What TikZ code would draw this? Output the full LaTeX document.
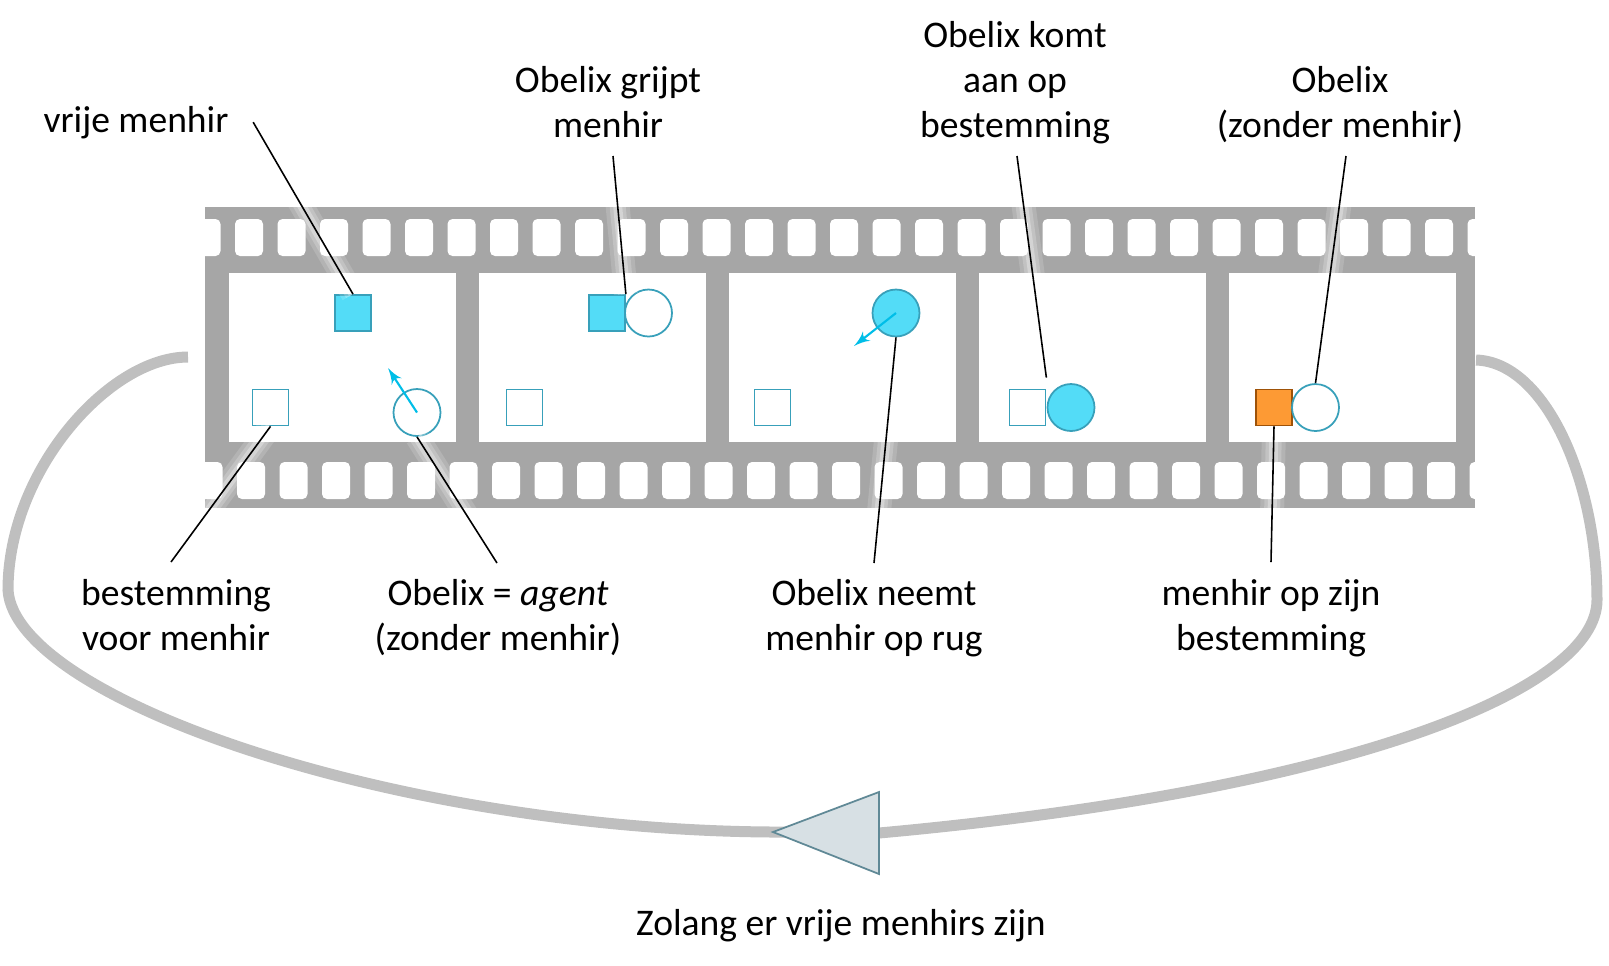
\documentclass[tikz,border=0pt]{standalone}
\usepackage{fontspec}
\setmainfont{Carlito}
\usetikzlibrary{arrows}
\definecolor{film}{RGB}{166,166,166}
\definecolor{loopgray}{RGB}{191,191,191}
\definecolor{rimblue}{RGB}{56,160,186}
\definecolor{menhircyan}{RGB}{83,220,247}
\definecolor{menhirorange}{RGB}{253,154,52}
\definecolor{orangerim}{RGB}{158,82,8}
\definecolor{movecyan}{RGB}{0,190,232}
\definecolor{tipfill}{RGB}{215,224,228}
\definecolor{tipline}{RGB}{96,137,150}
\tikzstyle{lbl} = [font=\fontsize{10.7}{12.8}\selectfont, align=center, inner sep=0pt, anchor=base]
\tikzstyle{stone} = [rectangle, draw=rimblue, line width=0.5pt, minimum size=3.6mm, inner sep=0pt]
\tikzstyle{freestone} = [stone, fill=menhircyan]
\tikzstyle{spot} = [stone, fill=white]
\tikzstyle{donestone} = [stone, draw=orangerim, fill=menhirorange]
\tikzstyle{obelix} = [circle, draw=rimblue, line width=0.5pt, minimum size=4.7mm, inner sep=0pt, fill=white]
\tikzstyle{loaded} = [obelix, fill=menhircyan]
\tikzstyle{line} = [draw, line width=0.45pt, preaction={draw=white, line width=2.4mm, draw opacity=0.15}, preaction={draw=white, line width=1.6mm, draw opacity=0.2}, preaction={draw=white, line width=0.9mm, draw opacity=0.3}]
\tikzstyle{move} = [draw=movecyan, line width=0.6pt, -latex']
\tikzstyle{loopline} = [draw=loopgray, line width=1.1mm]

\begin{document}
\begin{tikzpicture}[x=0.1mm, y=-0.1mm]
	\useasboundingbox (0,0) rectangle (1609,965);
	\fill[film] (205,207) rectangle (1475,508);
	\begin{scope}
		\clip (205,207) rectangle (1475,508);
		\foreach \k in {0,...,30} {
			\fill[white, rounded corners=0.5mm] ({192.5+42.5*\k},219) rectangle ({220.5+42.5*\k},256);
			\fill[white, rounded corners=0.5mm] ({194.5+42.5*\k},462) rectangle ({222.5+42.5*\k},499);
		}
	\end{scope}
	\foreach \i in {0,...,4}
		\fill[white] ({229+250*\i},273) rectangle ({456+250*\i},442);

	\coordinate (loopin) at (1476,360);
	\coordinate (loopout) at (188,357);
	\coordinate (tip) at (773,832);
	\coordinate (tail) at (879,833);
	\coordinate (tailtop) at (879,792);
	\coordinate (tailbot) at (879,874);
	\path [loopline] (loopin) .. controls (1545,362) and (1597,480) .. (1597,600) .. controls (1597,690) and (1350,790) .. (tail) -- (tip) .. controls (400,830) and (15,700) .. (8,590) .. controls (8,470) and (110,357) .. (loopout);
	\filldraw[fill=tipfill, draw=tipline, line width=0.5pt] (tip) -- (tailtop) -- (tailbot) -- cycle;

	\node [freestone] (free) at (353,313) {};
	\node [spot] (dest1) at (270.5,407.5) {};
	\node [obelix] (agent) at (417,412.5) {};
	\node [freestone] (grab) at (607,313) {};
	\node [obelix, right of=grab, node distance=4.15mm] (grabber) {};
	\node [spot] (dest2) at (524.5,407.5) {};
	\node [loaded] (carry) at (896,313) {};
	\node [spot] (dest3) at (772.5,407.5) {};
	\node [spot] (dest4) at (1027.5,407.5) {};
	\node [loaded, right of=dest4, node distance=4.35mm] (arrive) {};
	\node [donestone] (done) at (1274,407.5) {};
	\node [obelix, right of=done, node distance=4.15mm] (idle) {};
	\coordinate (agentgoal) at (388,368);
	\coordinate (carrygoal) at (854,346);
	\path [move] (agent.center) -- (agentgoal);
	\path [move] (carry.center) -- (carrygoal);

	\node [lbl] (lblfree) at (136,132) {vrije menhir};
	\node [lbl] (lblgrab) at (608,137) {Obelix grijpt\\menhir};
	\node [lbl] (lblarrive) at (1015,137) {Obelix komt\\aan op\\bestemming};
	\node [lbl] (lblidle) at (1340,137) {Obelix\\(zonder menhir)};
	\node [lbl] (lbldest) at (176,650) {bestemming\\voor menhir};
	\node [lbl] (lblagent) at (498,650) {Obelix = \textit{agent}\\(zonder menhir)};
	\node [lbl] (lblcarry) at (874,650) {Obelix neemt\\menhir op rug};
	\node [lbl] (lbldone) at (1271,650) {menhir op zijn\\bestemming};
	\node [lbl] (lblloop) at (841,935) {Zolang er vrije menhirs zijn};

	\path [line] ([xshift=2.4mm]lblfree.east) -- (free.north);
	\path [line] ([xshift=0.5mm,yshift=-1.9mm]lblgrab.base) -- (grab.north east);
	\path [line] ([xshift=0.2mm,yshift=-1.9mm]lblarrive.base) -- ([yshift=1.1mm]dest4.north east);
	\path [line] ([xshift=0.6mm,yshift=-1.9mm]lblidle.base) -- (idle.north);
	\path [line] ([xshift=-0.5mm,yshift=8.8mm]lbldest.base) -- (dest1.south);
	\path [line] ([xshift=-0.1mm,yshift=8.7mm]lblagent.base) -- (agent.south);
	\path [line] ([yshift=8.7mm]lblcarry.base) -- (carry.south);
	\path [line] ([yshift=8.8mm]lbldone.base) -- (done.south);
\end{tikzpicture}
\end{document}
